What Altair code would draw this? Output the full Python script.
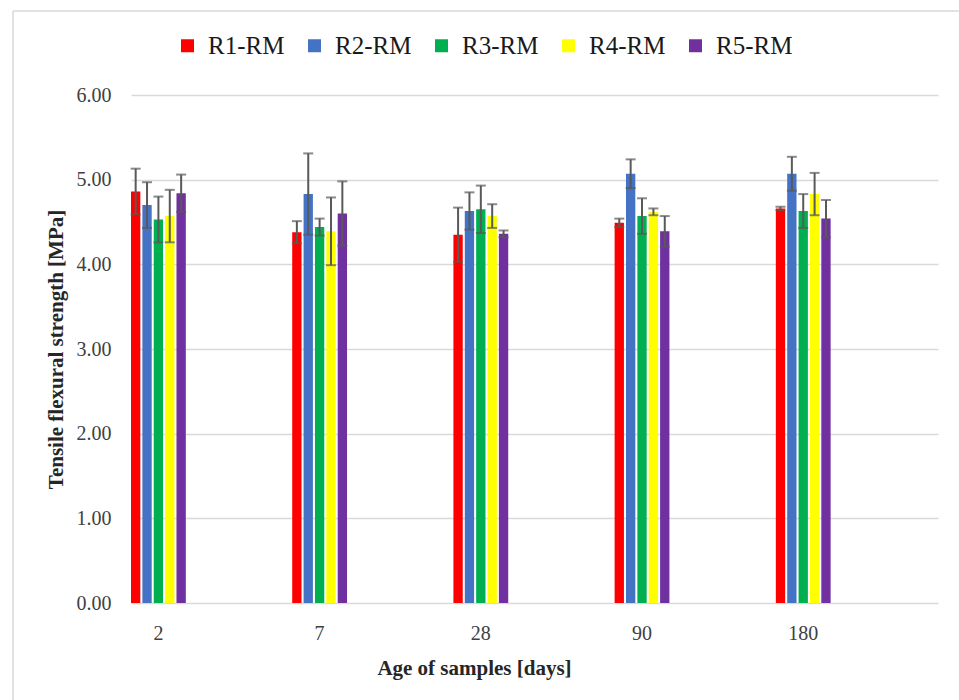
import altair as alt
import pandas as pd

ages = ["2", "7", "28", "90", "180"]
series = ["R1-RM", "R2-RM", "R3-RM", "R4-RM", "R5-RM"]
colors = ["#FF0000", "#4472C4", "#00B050", "#FFFF00", "#7030A0"]

r1 = [4.86, 4.38, 4.35, 4.49, 4.66]
r2 = [4.70, 4.83, 4.63, 5.07, 5.07]
r3 = [4.53, 4.44, 4.65, 4.57, 4.63]
r4 = [4.57, 4.39, 4.57, 4.62, 4.83]
r5 = [4.84, 4.60, 4.36, 4.39, 4.54]

e1 = [0.27, 0.13, 0.32, 0.05, 0.02]
e2 = [0.27, 0.48, 0.22, 0.17, 0.20]
e3 = [0.27, 0.10, 0.28, 0.21, 0.20]
e4 = [0.31, 0.40, 0.14, 0.04, 0.25]
e5 = [0.22, 0.38, 0.04, 0.18, 0.22]

vals = [r1, r2, r3, r4, r5]
errs = [e1, e2, e3, e4, e5]

rows = []
for s, v, e in zip(series, vals, errs):
    for a, vv, ee in zip(ages, v, e):
        rows.append({"age": a, "series": s, "value": vv, "lo": vv - ee, "hi": vv + ee})
df = pd.DataFrame(rows)

FONT = "Liberation Serif"

x_enc = alt.X(
    "age:N",
    sort=ages,
    scale=alt.Scale(paddingInner=0.66, paddingOuter=0.333, align=0),
    axis=alt.Axis(
        title="Age of samples [days]",
        labelAngle=0,
        domain=False,
        ticks=False,
        grid=False,
        labelFontSize=20,
        labelColor="#404040",
        labelFont=FONT,
        labelPadding=20,
        titleFont=FONT,
        titleFontSize=21,
        titleFontWeight="bold",
        titleColor="#262626",
        titlePadding=14,
        titleX=343,
    ),
)
xoff = alt.XOffset("series:N", sort=series, scale=alt.Scale(paddingInner=0.18, paddingOuter=0))

y_scale = alt.Scale(domain=[0, 6], nice=False)

bars = alt.Chart(df).mark_bar().encode(
    x=x_enc,
    xOffset=xoff,
    y=alt.Y(
        "value:Q",
        scale=y_scale,
        axis=alt.Axis(
            title="Tensile flexural strength [MPa]",
            values=[0, 1, 2, 3, 4, 5, 6],
            format=".2f",
            domain=False,
            ticks=False,
            grid=True,
            gridColor="#d9d9d9",
            gridWidth=1.5,
            labelFontSize=20,
            labelColor="#404040",
            labelFont=FONT,
            labelPadding=20,
            titleFont=FONT,
            titleFontSize=21,
            titleFontWeight="bold",
            titleColor="#262626",
            titlePadding=10,
        ),
    ),
    color=alt.Color(
        "series:N",
        sort=series,
        scale=alt.Scale(domain=series, range=colors),
        legend=alt.Legend(
            title=None,
            orient="none",
            direction="horizontal",
            legendX=44,
            legendY=-62,
            symbolType="square",
            symbolSize=169,
            symbolStrokeWidth=0,
            labelFont=FONT,
            labelFontSize=25,
            labelColor="#1a1a1a",
            labelOffset=8,
            columnPadding=17,
            padding=0,
        ),
    ),
)

rules = alt.Chart(df).mark_rule(color="#595959", strokeWidth=2).encode(
    x=alt.X("age:N", sort=ages),
    xOffset=alt.XOffset("series:N", sort=series),
    y=alt.Y("lo:Q", scale=y_scale),
    y2="hi:Q",
)
caps_lo = alt.Chart(df).mark_tick(color="#595959", size=10, thickness=2).encode(
    x=alt.X("age:N", sort=ages),
    xOffset=alt.XOffset("series:N", sort=series),
    y=alt.Y("lo:Q", scale=y_scale),
)
caps_hi = alt.Chart(df).mark_tick(color="#595959", size=10, thickness=2).encode(
    x=alt.X("age:N", sort=ages),
    xOffset=alt.XOffset("series:N", sort=series),
    y=alt.Y("hi:Q", scale=y_scale),
)

frame_data = alt.Data(values=[{}])
border_top = alt.Chart(frame_data).mark_rule(color="#d9d9d9", strokeWidth=1.5).encode(
    x=alt.value(-118), x2=alt.value(900), y=alt.value(-84)
)
border_left = alt.Chart(frame_data).mark_rule(color="#d9d9d9", strokeWidth=1.5).encode(
    x=alt.value(-118), y=alt.value(-84), y2=alt.value(700)
)

chart = (
    alt.layer(border_top, border_left, bars, rules, caps_lo, caps_hi)
    .properties(
        width=807,
        height=508,
        autosize=alt.AutoSizeParams(type="none"),
        padding={"left": 131, "top": 95, "right": 21, "bottom": 97},
    )
    .configure(font=FONT, background="white")
    .configure_view(strokeWidth=0, stroke="transparent")
)

chart.save("out.html", embed_options={"renderer": "svg", "actions": False})
